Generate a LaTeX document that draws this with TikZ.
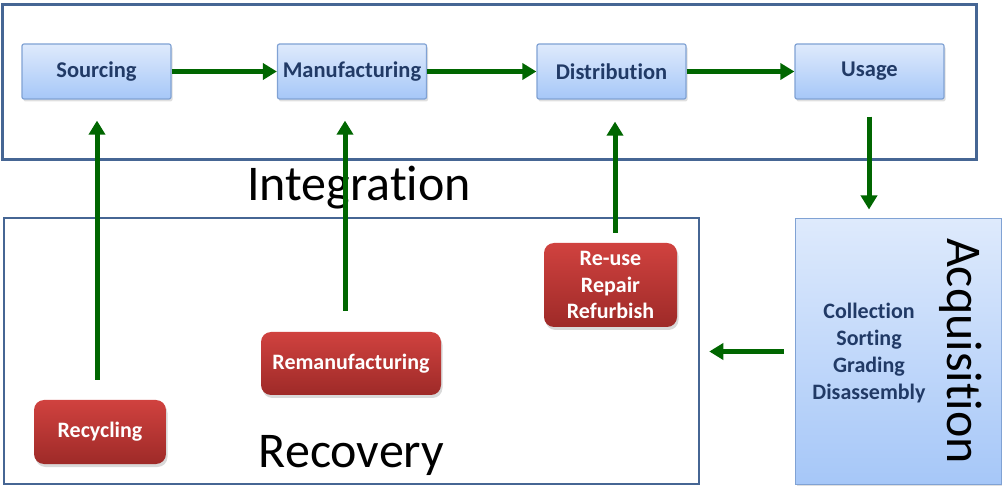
\documentclass[tikz,border=0pt]{standalone}
\usepackage{fontspec}
\setmainfont{Carlito}[Ligatures={NoCommon, NoRequired, NoContextual}, Contextuals=NoAlternate]
\usetikzlibrary{arrows.meta, positioning, shadows}

\definecolor{framecol}{RGB}{70,102,148}
\definecolor{boxline}{RGB}{128,162,212}
\definecolor{bluetop}{RGB}{222,234,252}
\definecolor{bluebot}{RGB}{166,199,248}
\definecolor{bluetext}{RGB}{33,58,102}
\definecolor{redtop}{RGB}{208,66,63}
\definecolor{redbot}{RGB}{158,42,40}
\definecolor{flowgreen}{RGB}{0,102,0}

\begin{document}
\begin{tikzpicture}[x=1pt, y=1pt,
        stage/.style={rectangle, rounded corners=2pt, draw=boxline, line width=1.2pt,
            top color=bluetop, bottom color=bluebot, text=bluetext, inner sep=0pt,
            font=\fontsize{22.5}{26.5}\selectfont\bfseries,
            minimum width=149pt, minimum height=55pt,
            drop shadow={shadow xshift=1.5pt, shadow yshift=-2.5pt, opacity=0.25}},
        recov/.style={rectangle, rounded corners=10pt, top color=redtop, bottom color=redbot,
            text=white, align=center, inner sep=0pt,
            font=\fontsize{22}{26.5}\selectfont\bfseries,
            drop shadow={shadow xshift=1.5pt, shadow yshift=-3pt, opacity=0.3}},
        region/.style={rectangle, draw=framecol, inner sep=0pt},
        flow/.style={draw=flowgreen, line width=5pt, -{Triangle[length=14pt, width=16pt]}},
        biglabel/.style={font=\fontsize{50}{60}\selectfont, inner sep=0pt}
    ]
        \useasboundingbox (0,0) rectangle (1002,-486);

        % frames
        \node[region, line width=3pt, minimum width=974pt, minimum height=155pt] (integ) at (489,-82.5) {};
        \node[region, line width=2.5pt, minimum width=695pt, minimum height=266pt] (recframe) at (351.5,-351) {};

        % forward chain
        \node[stage] (sourcing) at (96.5,-71.5) {Sourcing};
        \node[stage] (manuf) at (352,-71.5) {Manufacturing};
        \node[stage] (distrib) at (611.5,-71.5) {Distribution};
        \node[stage] (usage) at (869.5,-71.5) {Usage};

        % recovery options
        \node[recov, minimum width=132pt, minimum height=64pt] (recycling) at (100,-432) {Recycling};
        \node[recov, minimum width=180pt, minimum height=63pt] (reman) at (351,-363.5) {Remanufacturing};
        \node[recov, minimum width=133pt, minimum height=84pt] (reuse) at (610.5,-285)
            {Re-use\\Repair\\Refurbish};

        % acquisition
        \node[stage, rounded corners=0pt, line width=1pt, minimum width=206pt, minimum height=265pt,
            drop shadow={opacity=0}] (acq) at (898,-351.5) {};
        \node[text=bluetext, align=center, font=\fontsize{22}{27}\selectfont\bfseries] (acqtext)
            at (869,-353.5) {Collection\\Sorting\\Grading\\Disassembly};
        \node[biglabel, rotate=-90, anchor=base] (acqlabel) at (947,-351) {Acquisit\kern0pt ion};

        % region labels
        \node[biglabel, anchor=base] (integlabel) at (359,-201) {Integrat\kern0pt ion};
        \node[biglabel, anchor=base] (reclabel) at (351.5,-467) {Recovery};

        % arrows
        \draw[flow] (sourcing) -- (manuf);
        \draw[flow] (manuf) -- (distrib);
        \draw[flow] (distrib) -- (usage);
        \draw[flow, shorten >=21pt] ([xshift=-3pt, yshift=20pt]recycling.north) coordinate (up1) -- (up1 |- sourcing.south);
        \draw[flow, shorten >=21pt] ([xshift=-6pt, yshift=21pt]reman.north) coordinate (up2) -- (up2 |- manuf.south);
        \draw[flow, shorten >=22pt] ([xshift=4.5pt, yshift=10pt]reuse.north) coordinate (up3) -- (up3 |- distrib.south);
        \draw[flow] ([xshift=-0.5pt, yshift=-17pt]usage.south) -- ([xshift=-0.5pt, yshift=9pt]usage.south |- acq.north);
        \draw[flow] ([xshift=-11pt]acq.west) -- ([xshift=9pt]recframe.east |- acq.west);
    \end{tikzpicture}
\end{document}
